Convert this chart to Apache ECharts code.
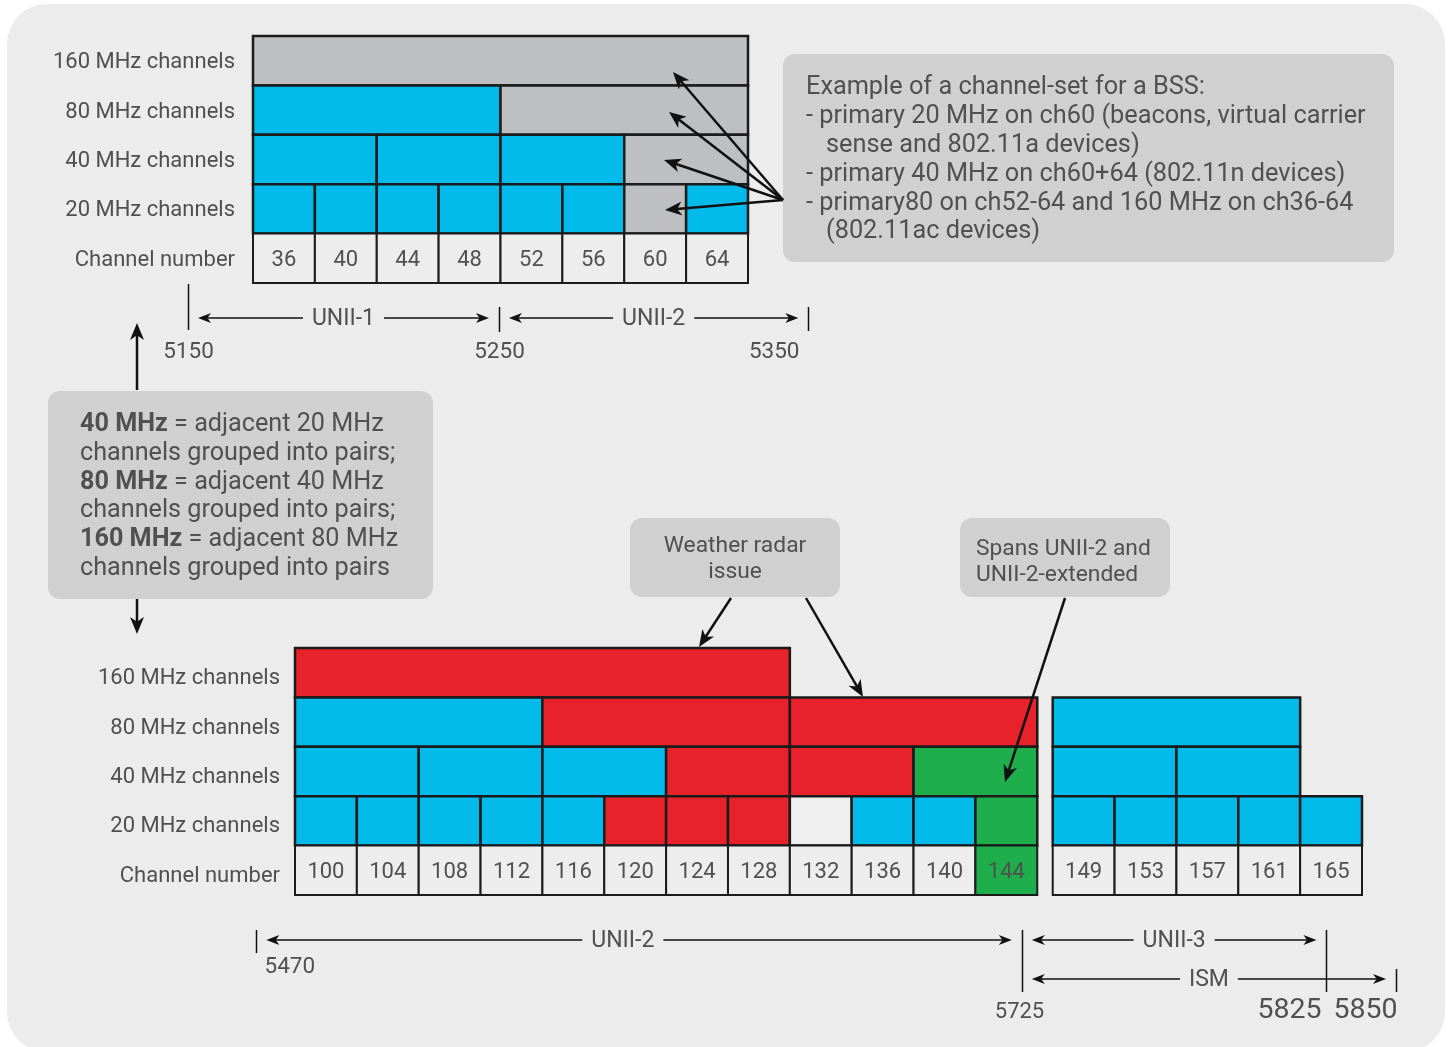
<!DOCTYPE html>
<html><head><meta charset="utf-8">
<script src="https://cdn.jsdelivr.net/npm/echarts@6/dist/echarts.min.js"></script>
<style>html,body{margin:0;padding:0;background:#fff}#c{width:1450px;height:1047px}</style>
</head><body><div id="c"></div>
<script>
// ---------------- data ----------------
const rowNames = ['160 MHz channels', '80 MHz channels', '40 MHz channels', '20 MHz channels', 'Channel number'];

const topChannels = [36, 40, 44, 48, 52, 56, 60, 64];
const top20Colors = ['blue', 'blue', 'blue', 'blue', 'blue', 'blue', 'gray', 'blue'];
const topNumColors = ['plain', 'plain', 'plain', 'plain', 'plain', 'plain', 'plain', 'plain'];
const top40 = [[36, 40, 'blue'], [44, 48, 'blue'], [52, 56, 'blue'], [60, 64, 'gray']];
const top80 = [[36, 48, 'blue'], [52, 64, 'gray']];
const top160 = [[36, 64, 'gray']];

const botChannels = [100, 104, 108, 112, 116, 120, 124, 128, 132, 136, 140, 144, 149, 153, 157, 161, 165];
const bot20Colors = ['blue', 'blue', 'blue', 'blue', 'blue', 'red', 'red', 'red', 'none', 'blue', 'blue', 'green', 'blue', 'blue', 'blue', 'blue', 'blue'];
const botNumColors = ['plain', 'plain', 'plain', 'plain', 'plain', 'plain', 'plain', 'plain', 'plain', 'plain', 'plain', 'green', 'plain', 'plain', 'plain', 'plain', 'plain'];
const bot40 = [[100, 104, 'blue'], [108, 112, 'blue'], [116, 120, 'blue'], [124, 128, 'red'], [132, 136, 'red'], [140, 144, 'green'], [149, 153, 'blue'], [157, 161, 'blue']];
const bot80 = [[100, 112, 'blue'], [116, 128, 'red'], [132, 144, 'red'], [149, 161, 'blue']];
const bot160 = [[100, 128, 'red']];

// frequency markers, positioned in channel-number units
const topFreqTicks = [['5150', 29.8], ['5250', 49.9], ['5350', 69.9]];
const topBands = [['UNII-1', 29.8, 49.9], ['UNII-2', 49.9, 69.9]];
const botFreqTicks = [['5470', 95.5], ['5725', 145.0], ['5825', 164.7], ['5850', 169.2]];
const botBands = [['UNII-2', 95.5, 145.0], ['UNII-3', 145.0, 164.7], ['ISM', 145.0, 169.2]];
const botBandLabelAt = [119.2, null, null];

const noteBSS = [
  ['Example of a channel-set for a BSS:', 0],
  ['- primary 20 MHz on ch60 (beacons, virtual carrier', 0],
  ['sense and 802.11a devices)', 1],
  ['- primary 40 MHz on ch60+64 (802.11n devices)', 0],
  ['- primary80 on ch52-64 and 160 MHz on ch36-64', 0],
  ['(802.11ac devices)', 1]
];
const noteGroups = [
  ['40 MHz', ' = adjacent 20 MHz'], ['', 'channels grouped into pairs;'],
  ['80 MHz', ' = adjacent 40 MHz'], ['', 'channels grouped into pairs;'],
  ['160 MHz', ' = adjacent 80 MHz'], ['', 'channels grouped into pairs']
];
const noteWeather = 'Weather radar\nissue';
const noteSpans = 'Spans UNII-2 and\nUNII-2-extended';

// ---------------- styles ----------------
const C = {blue: '#02bbea', gray: '#bebfc1', red: '#e8222a', green: '#1fae4c', plain: '#ededed', none: '#efefef'};
const TXT = '#505050', BG = '#ececec', BOX = '#d0d0d0', INK = '#111';
const FONT = 'Roboto, "Liberation Sans", sans-serif';

function buildCells(channels, c20, cNum, c40, c80, c160) {
  const cells = [];
  const span = (a, b, row, col, label) => cells.push({value: [a - 2, b + 2, row], color: col, label: label});
  c160.forEach(d => span(d[0], d[1], 0, d[2]));
  c80.forEach(d => span(d[0], d[1], 1, d[2]));
  c40.forEach(d => span(d[0], d[1], 2, d[2]));
  channels.forEach((ch, i) => span(ch, ch, 3, c20[i]));
  channels.forEach((ch, i) => span(ch, ch, 4, cNum[i], String(ch)));
  return cells;
}
const topCells = buildCells(topChannels, top20Colors, topNumColors, top40, top80, top160);
const botCells = buildCells(botChannels, bot20Colors, botNumColors, bot40, bot80, bot160);

function makeRender(cells) {
  return function (params, api) {
    const c = cells[params.dataIndex];
    const row = api.value(2);
    const a = api.coord([api.value(0), row]);
    const b = api.coord([api.value(1), row]);
    const h = api.size([0, 1])[1];
    const rect = {type: 'rect', shape: {x: a[0], y: a[1] - h / 2, width: b[0] - a[0], height: h},
      style: {fill: C[c.color], stroke: '#1b1b1b', lineWidth: c.label ? 2 : 2.5}};
    if (!c.label) return rect;
    return {type: 'group', children: [rect, {type: 'text', z2: 10, style: {text: c.label, x: (a[0] + b[0]) / 2, y: a[1] + 2,
      align: 'center', verticalAlign: 'middle', fill: TXT, fontSize: 22, fontFamily: FONT}}]};
  };
}

const yAxisBase = {type: 'category', data: rowNames, inverse: true,
  axisLine: {show: false}, axisTick: {show: false}, splitLine: {show: false}};
function rowLabel(margin, shift) {
  return {margin: margin, formatter: '{a|{value}}',
    rich: {a: {fontSize: 22, color: TXT, fontFamily: FONT, padding: [shift * 2, 0, 0, 0]}}};
}

const chart = echarts.init(document.getElementById('c'), null, {renderer: 'canvas'});
chart.setOption({
  backgroundColor: '#ffffff',
  animation: false,
  grid: [
    {left: 253, top: 36, width: 495, height: 247, outerBoundsMode: 'none'},
    {left: 295, top: 648, width: 1067, height: 247, outerBoundsMode: 'none'}
  ],
  xAxis: [
    {type: 'value', gridIndex: 0, min: 34, max: 66, show: false},
    {type: 'value', gridIndex: 1, min: 98, max: 167, show: false}
  ],
  yAxis: [
    Object.assign({gridIndex: 0, axisLabel: rowLabel(18, 2)}, yAxisBase),
    Object.assign({gridIndex: 1, axisLabel: rowLabel(15, 6)}, yAxisBase)
  ],
  series: [
    {type: 'custom', xAxisIndex: 0, yAxisIndex: 0, encode: {x: [0, 1], y: 2}, clip: false,
      renderItem: makeRender(topCells), data: topCells.map(c => c.value), z: 5},
    {type: 'custom', xAxisIndex: 1, yAxisIndex: 1, encode: {x: [0, 1], y: 2}, clip: false,
      renderItem: makeRender(botCells), data: botCells.map(c => c.value), z: 5}
  ]
});

// ---------------- annotation layer ----------------
function head(tx, ty, ux, uy, L, W) {
  const bx = tx - ux * L, by = ty - uy * L, nx = -uy, ny = ux;
  return {type: 'polygon', z: 60, shape: {points: [[tx, ty], [bx + nx * W, by + ny * W], [tx - ux * L * 0.72, ty - uy * L * 0.72], [bx - nx * W, by - ny * W]]},
    style: {fill: INK}};
}
function arrow(x1, y1, x2, y2, o) {
  o = o || {};
  const L = o.len || 17, W = o.w || 7, lw = o.lw || 2.5;
  const d = Math.hypot(x2 - x1, y2 - y1), ux = (x2 - x1) / d, uy = (y2 - y1) / d;
  const out = [];
  const sx = o.both ? x1 + ux * L * 0.7 : x1, sy = o.both ? y1 + uy * L * 0.7 : y1;
  out.push({type: 'line', z: 59, shape: {x1: sx, y1: sy, x2: x2 - ux * L * 0.7, y2: y2 - uy * L * 0.7}, style: {stroke: INK, lineWidth: lw}});
  out.push(head(x2, y2, ux, uy, L, W));
  if (o.both) out.push(head(x1, y1, -ux, -uy, L, W));
  return out;
}
function txt(text, x, y, size, align, z) {
  return {type: 'text', z: z || 20, style: {text: text, x: x, y: y, fill: TXT, fontSize: size, fontFamily: FONT,
    align: align || 'center', verticalAlign: 'middle'}};
}

const px0 = v => chart.convertToPixel({xAxisIndex: 0}, v);
const px1 = v => chart.convertToPixel({xAxisIndex: 1}, v);

const g = [];
g.push({type: 'rect', z: 0, shape: {x: 7, y: 4, width: 1438, height: 1048, r: 40}, style: {fill: BG}});

// top-right note
g.push({type: 'rect', z: 1, shape: {x: 783, y: 54, width: 611, height: 208, r: 12}, style: {fill: BOX}});
noteBSS.forEach((ln, i) => g.push(txt(ln[0], ln[1] ? 826 : 806, 88 + i * 28.8, 25.3, 'left')));
[[673, 72], [669, 112], [664, 160], [665, 210]].forEach(t => arrow(783, 200, t[0], t[1]).forEach(e => g.push(e)));

// left note
g.push({type: 'rect', z: 1, shape: {x: 48, y: 391, width: 385, height: 208, r: 12}, style: {fill: BOX}});
noteGroups.forEach((ln, i) => g.push({type: 'text', z: 20, style: {
  text: (ln[0] ? '{b|' + ln[0] + '}' : '') + '{n|' + ln[1] + '}', x: 80, y: 425 + i * 28.7,
  align: 'left', verticalAlign: 'middle',
  rich: {b: {fontSize: 25.2, fontWeight: 'bold', fill: TXT, fontFamily: FONT}, n: {fontSize: 25.2, fill: TXT, fontFamily: FONT}}}}));
arrow(137, 390, 137, 323).forEach(e => g.push(e));
arrow(137, 599, 137, 634).forEach(e => g.push(e));

// weather radar note
g.push({type: 'rect', z: 1, shape: {x: 630, y: 518, width: 210, height: 79, r: 12}, style: {fill: BOX}});
g.push({type: 'text', z: 20, style: {text: noteWeather, x: 735, y: 559, fill: TXT, fontSize: 22.8, fontFamily: FONT,
  align: 'center', verticalAlign: 'middle', lineHeight: 26}});
arrow(731, 598, 699, 647).forEach(e => g.push(e));
arrow(806, 598, 863, 697).forEach(e => g.push(e));

// spans note
g.push({type: 'rect', z: 1, shape: {x: 960, y: 518, width: 210, height: 79, r: 12}, style: {fill: BOX}});
g.push({type: 'text', z: 20, style: {text: noteSpans, x: 976, y: 562, fill: TXT, fontSize: 22.8, fontFamily: FONT,
  align: 'left', verticalAlign: 'middle', lineHeight: 26}});
arrow(1065, 598, 1005, 782).forEach(e => g.push(e));

// frequency bands
const topTickLayout = [
  {y1: 284, y2: 330, align: 'center', dx: 0, ly: 352, size: 22.5},
  {y1: 307, y2: 332, align: 'center', dx: 0, ly: 352, size: 22.5},
  {y1: 307, y2: 331, align: 'right', dx: -9, ly: 352, size: 22.5}
];
const botTickLayout = [
  {y1: 930, y2: 953, align: 'left', dx: 8, ly: 967, size: 22.5},
  {y1: 930, y2: 992, align: 'center', dx: -3, ly: 1012, size: 22},
  {y1: 930, y2: 992, align: 'right', dx: -5, ly: 1011, size: 28.5},
  {y1: 969, y2: 992, align: 'right', dx: 1, ly: 1011, size: 28.5}
];
function ticks(list, layout, px) {
  list.forEach((t, i) => {
    const x = Math.round(px(t[1])) + 0.5, L = layout[i];
    g.push({type: 'line', z: 20, shape: {x1: x, y1: L.y1, x2: x, y2: L.y2}, style: {stroke: INK, lineWidth: 1.5}});
    g.push(txt(t[0], x + L.dx, L.ly, L.size, L.align));
  });
}
function bands(list, ys, px, labelAt) {
  list.forEach((b, i) => {
    const a = px(b[1]) + 10, c = px(b[2]) - 10, y = ys[i];
    arrow(a, y, c, y, {both: true, len: 13, w: 5, lw: 1.5}).forEach(e => g.push(e));
    const lx = labelAt && labelAt[i] != null ? px(labelAt[i]) : (a + c) / 2;
    const mask = txt(b[0], lx, y + 1, 23, 'center', 65);
    mask.style.backgroundColor = BG; mask.style.padding = [0, 9]; mask.style.fill = BG;
    g.push(mask);
    g.push(txt(b[0], lx, y + 1, 23, 'center', 70));
  });
}
ticks(topFreqTicks, topTickLayout, px0);
bands(topBands, [318, 318], px0);
ticks(botFreqTicks, botTickLayout, px1);
bands(botBands, [940, 940, 979], px1, botBandLabelAt);

chart.setOption({graphic: {elements: g}});
</script>
</body></html>
